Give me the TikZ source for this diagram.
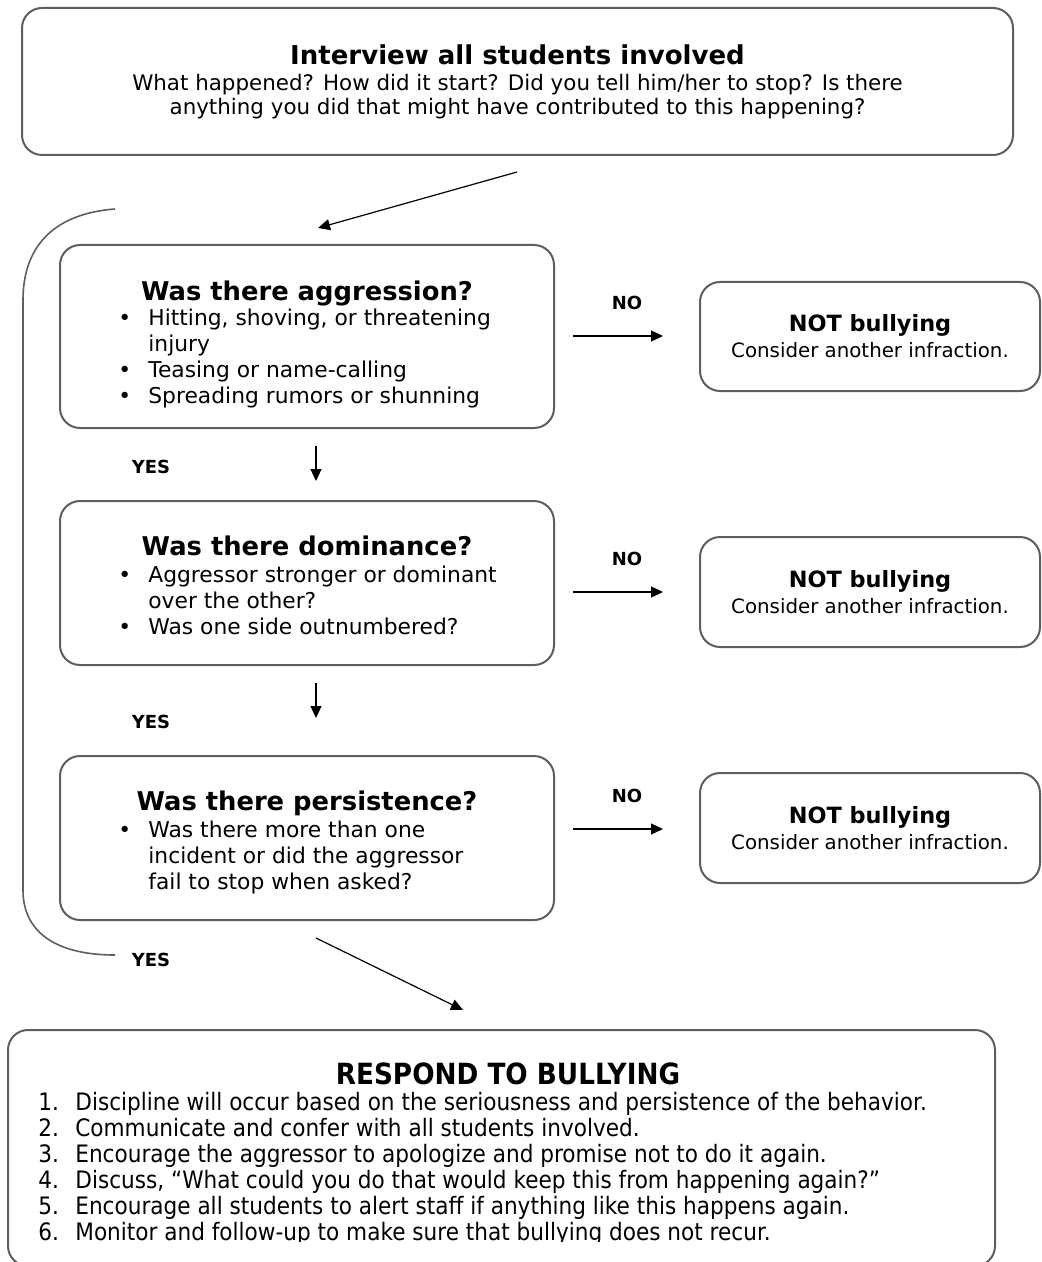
\documentclass[tikz,border=0pt]{standalone}
\usepackage{fontspec}
\setmainfont{DejaVu Sans}
\newfontfamily\narrowfont[FakeStretch=0.9]{DejaVu Sans}
\usetikzlibrary{arrows.meta,positioning}
\definecolor{boxgray}{HTML}{5E5E5E}

\begin{document}
\begin{tikzpicture}[x=0.5pt,y=-0.5pt,
        box/.style={draw=boxgray,line width=1pt,rounded corners=10pt,inner sep=0pt,align=center},
        conn/.style={line width=0.6pt,-{Triangle[length=6pt,width=5.5pt]}},
        lbl/.style={font=\bfseries\fontsize{9}{9}\selectfont},
        qtitle/.style={font=\bfseries\fontsize{12.9}{12.9}\selectfont,anchor=base},
        qlist/.style={font=\fontsize{10.9}{13}\selectfont,anchor=base west,inner sep=0pt}]
        \useasboundingbox (0,0) rectangle (1041,1262);

        % boxes
        \node[box,minimum width=495.5pt,minimum height=73.5pt] (interview) at (517.5,81.5)
            {{\bfseries\fontsize{13}{13}\selectfont Interview all students involved}\\[1pt]
             \fontsize{10.7}{13}\selectfont What happened? How did it start? Did you tell him/her to stop? Is there\\
             \fontsize{10.7}{13}\selectfont anything you did that might have contributed to this happening?};

        \node[box,minimum width=247pt,minimum height=91.5pt] (aggr) at (307,336.5) {};
        \node[box,minimum width=247pt,minimum height=82pt] (domin) at (307,583) {};
        \node[box,minimum width=247pt,minimum height=82pt] (persist) at (307,838) {};

        \node[box,minimum width=170pt,minimum height=54.5pt] (notA) at (870,336.5)
            {{\bfseries\fontsize{11.2}{11}\selectfont NOT bullying}\\[1pt]\fontsize{9.9}{11}\selectfont Consider another infraction.};
        \node[box,minimum width=170pt,minimum height=55pt] (notB) at (870,592)
            {{\bfseries\fontsize{11.2}{11}\selectfont NOT bullying}\\[1pt]\fontsize{9.9}{11}\selectfont Consider another infraction.};
        \node[box,minimum width=170pt,minimum height=55pt] (notC) at (870,828)
            {{\bfseries\fontsize{11.2}{11}\selectfont NOT bullying}\\[1pt]\fontsize{9.9}{11}\selectfont Consider another infraction.};

        \node[box,minimum width=493.5pt,minimum height=118pt] (respond) at (501.5,1148) {};

        % texts of the question boxes
        \node[qtitle] (aggrT) at (307,300) {Was there aggression?};
        \node[qlist] (aggrL) at (118,326) {\begin{tabular}[t]{@{}p{15pt}@{}l@{}}
            \textbullet & Hitting, shoving, or threatening\\
                        & injury\\
            \textbullet & Teasing or name-calling\\
            \textbullet & Spreading rumors or shunning
        \end{tabular}};

        \node[qtitle] (dominT) at (307,555) {Was there dominance?};
        \node[qlist] (dominL) at (118,582) {\begin{tabular}[t]{@{}p{15pt}@{}l@{}}
            \textbullet & Aggressor stronger or dominant\\
                        & over the other?\\
            \textbullet & Was one side outnumbered?
        \end{tabular}};

        \node[qtitle] (persistT) at (307,810) {Was there persistence?};
        \node[qlist] (persistL) at (118,837) {\begin{tabular}[t]{@{}p{15pt}@{}l@{}}
            \textbullet & Was there more than one\\
                        & incident or did the aggressor\\
                        & fail to stop when asked?
        \end{tabular}};

        % respond box text
        \node[anchor=base,font=\narrowfont\bfseries\fontsize{14.6}{14}\selectfont] (respondT) at (508,1084) {RESPOND TO BULLYING};
        \begin{scope}
            \clip (0,1030) rectangle (1041,1241);
            \node[anchor=base west,inner sep=0pt,font=\narrowfont\fontsize{12}{13}\selectfont] (respondL) at (38,1110)
                {\begin{tabular}[t]{@{}p{18.5pt}@{}l@{}}
                1. & Discipline will occur based on the seriousness and persistence of the behavior.\\
                2. & Communicate and confer with all students involved.\\
                3. & Encourage the aggressor to apologize and promise not to do it again.\\
                4. & Discuss, “What could you do that would keep this from happening again?”\\
                5. & Encourage all students to alert staff if anything like this happens again.\\
                6. & Monitor and follow-up to make sure that bullying does not recur.
                \end{tabular}};
        \end{scope}

        % arrow ends
        \coordinate (inA) at (517,172);
        \coordinate (inB) at (318,228);
        \coordinate (d1A) at (316,446);
        \coordinate (d1B) at (316,481);
        \coordinate (d2A) at (316,683);
        \coordinate (d2B) at (316,718);
        \coordinate (n1A) at (573,336);
        \coordinate (n1B) at (663,336);
        \coordinate (n2A) at (573,592);
        \coordinate (n2B) at (663,592);
        \coordinate (n3A) at (573,829);
        \coordinate (n3B) at (663,829);
        \coordinate (outA) at (316,938);
        \coordinate (outB) at (463,1010);

        \draw[conn] (inA) -- (inB);
        \draw[conn] (d1A) -- (d1B);
        \draw[conn] (d2A) -- (d2B);
        \draw[conn] (n1A) -- (n1B);
        \draw[conn] (n2A) -- (n2B);
        \draw[conn] (n3A) -- (n3B);
        \draw[conn] (outA) -- (outB);

        % labels
        \node[lbl] (no1) at (627,303) {NO};
        \node[lbl] (no2) at (627,559) {NO};
        \node[lbl] (no3) at (627,796) {NO};
        \node[lbl] (yes1) at (151,467) {YES};
        \node[lbl] (yes2) at (151,722) {YES};
        \node[lbl] (yes3) at (151,960) {YES};

        % bracket on the left
        \coordinate (brTop) at (115,209);
        \coordinate (brBot) at (115,955);
        \draw[boxgray,line width=0.8pt] (brTop) .. controls (50,214) and (23,250) .. (23,300)
            -- (23,890) .. controls (23,935) and (60,955) .. (brBot);
    \end{tikzpicture}
\end{document}
